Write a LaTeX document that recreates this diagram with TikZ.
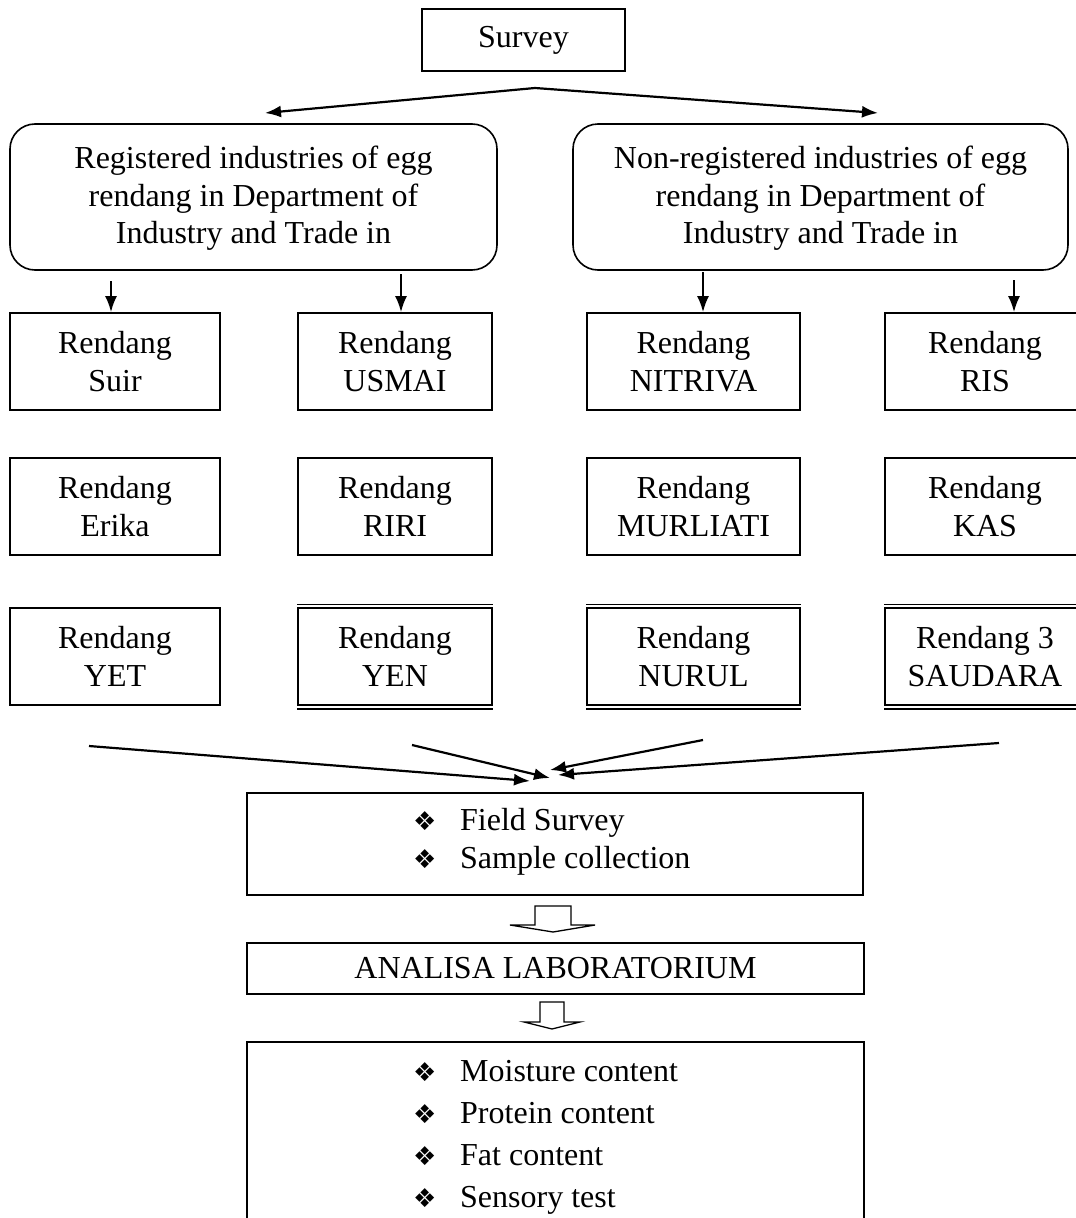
\documentclass[tikz,border=0pt]{standalone}
\usepackage{fontspec}
\setmainfont{Liberation Serif}
\newfontfamily\dingfont{DejaVu Sans}
\usetikzlibrary{arrows.meta}
\tikzset{
  box/.style={draw, line width=1.6pt, inner sep=0pt, align=center,
    font=\fontsize{32}{37.5}\selectfont},
  rbox/.style={box, rounded corners=25pt},
  arr/.style={line width=2.2pt, -{Latex[length=16pt,width=12pt]}},
  txt/.style={anchor=base west, inner sep=0pt, font=\fontsize{32}{37.5}\selectfont},
  dia/.style={anchor=base west, inner sep=0pt, font=\dingfont\fontsize{26}{26}\selectfont},
  hollow/.style={draw, line width=1.3pt, fill=white, line join=miter},
  dbl/.style={line width=1.2pt}
}
\begin{document}
\begin{tikzpicture}[x=1pt,y=-1pt]
\useasboundingbox (0,0) rectangle (1076,1218);
\clip (0,0) rectangle (1076,1218);
\fill[white] (0,0) rectangle (1076,1218);

% top
\node[box, minimum width=203pt, minimum height=62pt] (survey) at (523.5,40) {Survey};
\node[rbox, minimum width=487pt, minimum height=146pt] (reg) at (253.5,197)
  {\rule{0pt}{25pt}Registered industries of egg\\rendang in Department of\\Industry and Trade in};
\node[rbox, minimum width=495pt, minimum height=146pt] (nonreg) at (820.5,197)
  {\rule{0pt}{25pt}Non-registered industries of egg\\rendang in Department of\\Industry and Trade in};

\coordinate (apex) at (535,88);
\coordinate (tipL) at (265,113);
\coordinate (tipR) at (878,113);
\draw[arr] (apex) -- (tipL);
\draw[arr] (apex) -- (tipR);

% rows
\foreach \nm/\cx/\w/\cy/\t in {
  a1/115/210/361.5/{Rendang\\Suir},
  b1/395/194/361.5/{Rendang\\USMAI},
  c1/693.5/213/361.5/{Rendang\\NITRIVA},
  d1/985/200/361.5/{Rendang\\RIS},
  a2/115/210/506.5/{Rendang\\Erika},
  b2/395/194/506.5/{Rendang\\RIRI},
  c2/693.5/213/506.5/{Rendang\\MURLIATI},
  d2/985/200/506.5/{Rendang\\KAS},
  a3/115/210/656.5/{Rendang\\YET},
  b3/395/194/656.5/{Rendang\\YEN},
  c3/693.5/213/656.5/{Rendang\\NURUL},
  d3/985/200/656.5/{Rendang 3\\SAUDARA}}
  {\node[box, minimum width=\w pt, minimum height=97pt] (\nm) at (\cx,\cy) {\t};}

\foreach \nm in {b3,c3,d3}{
  \draw[dbl] ([yshift=3pt]\nm.north west) -- ([yshift=3pt]\nm.north east);
  \draw[line width=1.8pt] ([yshift=-3.5pt]\nm.south west) -- ([yshift=-3.5pt]\nm.south east);
}

\coordinate (da) at (111,281);
\coordinate (db) at (401,274);
\coordinate (dc) at (703,272);
\coordinate (dd) at (1014,280);
\draw[arr] (da) -- (da |- a1.north);
\draw[arr] (db) -- (db |- b1.north);
\draw[arr] (dc) -- (dc |- c1.north);
\draw[arr] (dd) -- (dd |- d1.north);

% convergence
\coordinate (k1) at (89,746);   \coordinate (e1) at (530,781);
\coordinate (k2) at (412,745);  \coordinate (e2) at (550,778);
\coordinate (k3) at (703,740);  \coordinate (e3) at (550,770);
\coordinate (k4) at (999,743);  \coordinate (e4) at (558,775);
\draw[arr] (k1) -- (e1);
\draw[arr] (k2) -- (e2);
\draw[arr] (k3) -- (e3);
\draw[arr] (k4) -- (e4);

% field survey box
\node[box, minimum width=616pt, minimum height=102pt] (field) at (555,844) {};
\node[dia] (fd1) at (413,830) {❖};
\node[txt] (ft1) at (460,830) {Field Survey};
\node[dia] (fd2) at (413,868) {❖};
\node[txt] (ft2) at (460,868) {Sample collection};

% hollow arrow 1
\draw[hollow] (535,906) -- (571,906) -- (571,925) -- (595,925) -- (553,932)
  -- (510,925) -- (535,925) -- cycle;

\node[box, minimum width=617pt, minimum height=51pt] (lab) at (555.5,968.5) {ANALISA LABORATORIUM};

% hollow arrow 2
\draw[hollow] (540,1002) -- (564,1002) -- (564,1022) -- (580,1022) -- (552,1029)
  -- (524,1022) -- (540,1022) -- cycle;

% bottom box
\node[box, minimum width=617pt, minimum height=200pt, anchor=north] (res) at (555.5,1041) {};
\node[dia] (rd1) at (413,1081) {❖};
\node[txt] (rt1) at (460,1081) {Moisture content};
\node[dia] (rd2) at (413,1123) {❖};
\node[txt] (rt2) at (460,1123) {Protein content};
\node[dia] (rd3) at (413,1165) {❖};
\node[txt] (rt3) at (460,1165) {Fat content};
\node[dia] (rd4) at (413,1207) {❖};
\node[txt] (rt4) at (460,1207) {Sensory test};
\end{tikzpicture}
\end{document}
